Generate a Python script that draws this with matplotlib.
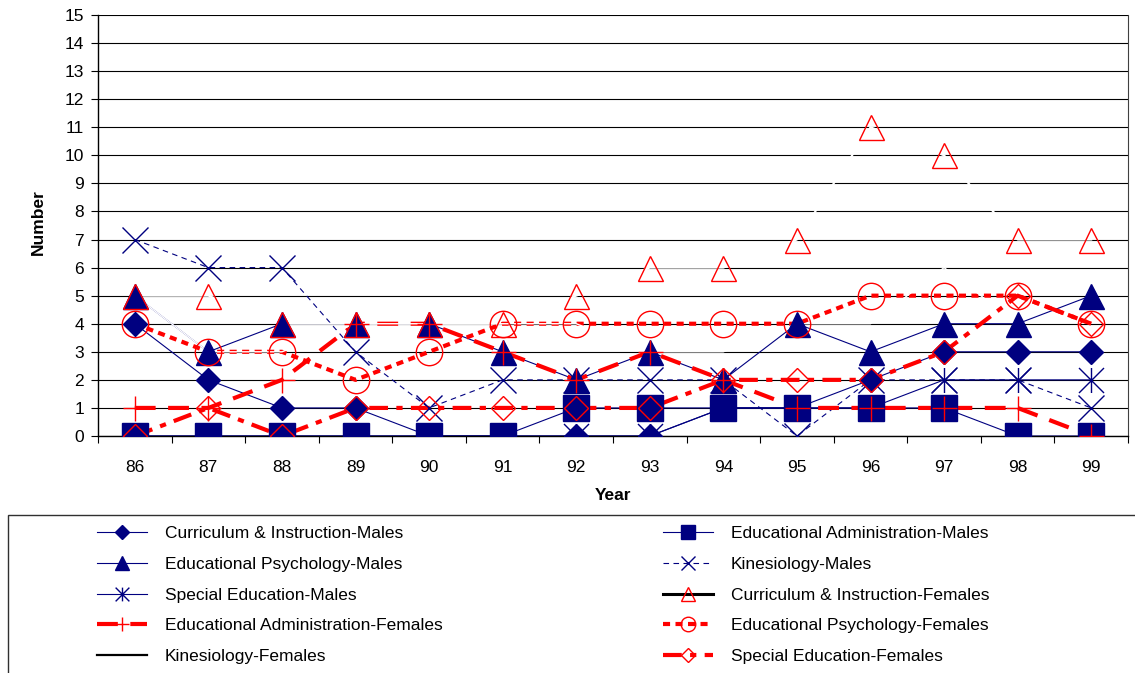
import numpy as np
import matplotlib
matplotlib.use('Agg')
import matplotlib.pyplot as plt
from matplotlib.lines import Line2D
from matplotlib.path import Path
from matplotlib.patches import Rectangle

plt.rcParams['font.family'] = ['Liberation Sans', 'DejaVu Sans']

# Data (number of graduates per year)
years = ['86', '87', '88', '89', '90', '91', '92', '93', '94', '95', '96', '97', '98', '99']
ci_males = [4, 2, 1, 1, 0, 0, 0, 0, 1, 1, 2, 3, 3, 3]
ea_males = [0, 0, 0, 0, 0, 0, 1, 1, 1, 1, 1, 1, 0, 0]
ep_males = [5, 3, 4, 4, 4, 3, 2, 3, 2, 4, 3, 4, 4, 5]
kin_males = [7, 6, 6, 3, 1, 2, 2, 2, 2, 0, 2, 2, 2, 1]
se_males = [0, 0, 0, 0, 0, 0, 0, 0, 1, 1, 1, 2, 2, 2]
ci_females = [5, 5, 4, 4, 4, 4, 5, 6, 6, 7, 11, 10, 7, 7]
ea_females = [1, 1, 2, 4, 4, 3, 2, 3, 2, 1, 1, 1, 1, 0]
ep_females = [4, 3, 3, 2, 3, 4, 4, 4, 4, 4, 5, 5, 5, 4]
kin_females = [5, 3, 3, 4, 4, 4, 4, 3, 3, 4, 4, 6, 4, 3]
se_females = [0, 1, 0, 1, 1, 1, 1, 1, 2, 2, 2, 3, 5, 4]

navy = '#000080'
red = '#FF0000'

# asterisk marker: X with a vertical bar
asterisk = Path([(-1, -1), (1, 1), (-1, 1), (1, -1), (0, -1), (0, 1)],
                [Path.MOVETO, Path.LINETO] * 3)

# label, values, line colour (plot), line colour (legend), lw, legend lw, dashes, marker, ms, face, edge
series = [
    ('Curriculum & Instruction-Males', ci_males, navy, navy, 0.8, 0.8, None, 'D', 12.7, navy, navy),
    ('Educational Administration-Males', ea_males, navy, navy, 0.8, 0.8, None, 's', 19, navy, navy),
    ('Educational Psychology-Males', ep_males, navy, navy, 0.8, 0.8, None, '^', 18, navy, navy),
    ('Kinesiology-Males', kin_males, navy, navy, 0.8, 0.8, (5, 4), 'x', 18.5, navy, navy),
    ('Special Education-Males', se_males, navy, navy, 0.8, 0.8, None, asterisk, 18, navy, navy),
    ('Curriculum & Instruction-Females', ci_females, 'white', 'black', 1.5, 2.2, None, '^', 18, 'none', red),
    ('Educational Administration-Females', ea_females, red, red, 3, 3, (5, 3), '+', 18, red, red),
    ('Educational Psychology-Females', ep_females, red, red, 3, 3, (1.7, 1.3), 'o', 19, 'none', red),
    ('Kinesiology-Females', kin_females, 'white', 'black', 1.0, 1.6, None, None, 0, 'none', 'none'),
    ('Special Education-Females', se_females, red, red, 3, 3, (4.5, 2, 1.5, 2), 'D', 12.7, 'none', red),
]

W, H = 1135, 673
fig = plt.figure(figsize=(W / 100, H / 100), dpi=100)
ax = fig.add_axes([98 / W, 1 - 436 / H, (1128 - 98) / W, (436 - 15) / H])

x = np.arange(len(years))
handles = []
labels = []
for i, (label, vals, lc, legc, lw, leg_lw, dashes, mk, ms, fc, ec) in enumerate(series):
    ls_kw = {'linestyle': '-'} if dashes is None else {'dashes': dashes}
    ax.plot(x, vals, color=lc, lw=lw, zorder=2 + i * 0.01, **ls_kw)
    if mk is not None:
        ax.plot(x, vals, ls='none', marker=mk, ms=ms, mfc=fc, mec=ec,
                mew=1.0, zorder=3 + i * 0.01)
    leg_ms = ms * 0.55 if mk is not None else 0
    handles.append(Line2D([], [], color=legc, lw=leg_lw, marker=mk, ms=leg_ms,
                          mfc=fc, mec=ec, mew=1.0, **ls_kw))
    labels.append(label)

ax.set_xlim(-0.5, len(years) - 0.5)
ax.set_ylim(0, 15)
ax.set_yticks(range(0, 16))
ax.set_xticks(x)
ax.set_xticklabels(years)
ax.set_xticks(np.arange(-0.5, len(years), 1.0), minor=True)
ax.tick_params(axis='x', which='major', length=0, labelsize=12.5, pad=17)
ax.tick_params(axis='x', which='minor', length=5, width=0.8, direction='out')
ax.tick_params(axis='y', length=5, width=0.8, labelsize=12.5, pad=5)
ax.grid(axis='y', color='black', lw=0.8, zorder=1)
ax.set_axisbelow(True)
ax.spines['top'].set_visible(False)
ax.spines['right'].set_color('#404040')
ax.spines['left'].set_linewidth(1.0)
ax.spines['bottom'].set_linewidth(1.0)

fig.text(613 / W, 1 - 496 / H, 'Year', fontsize=12.5, fontweight='bold',
         ha='center', va='center')
fig.text(38 / W, 1 - 222 / H, 'Number', fontsize=12.5, fontweight='bold',
         ha='center', va='center', rotation=90)

# legend frame (runs off the bottom/right of the image)
fig.patches.append(Rectangle((8 / W, -0.1), 1.2, (1 - 515 / H) + 0.1,
                             transform=fig.transFigure, fill=False,
                             edgecolor='#303030', lw=1.0))

for idx, xl in (((0, 2, 4, 6, 8), 97), ((1, 3, 5, 7, 9), 663)):
    fig.legend(handles=[handles[i] for i in idx], labels=[labels[i] for i in idx],
               loc='upper left', bbox_to_anchor=(xl / W, 1 - 526 / H),
               frameon=False, borderpad=0, borderaxespad=0, fontsize=12.5,
               handlelength=2.9, handletextpad=1.0, labelspacing=0.9)

fig.savefig('out.png', dpi=100)
